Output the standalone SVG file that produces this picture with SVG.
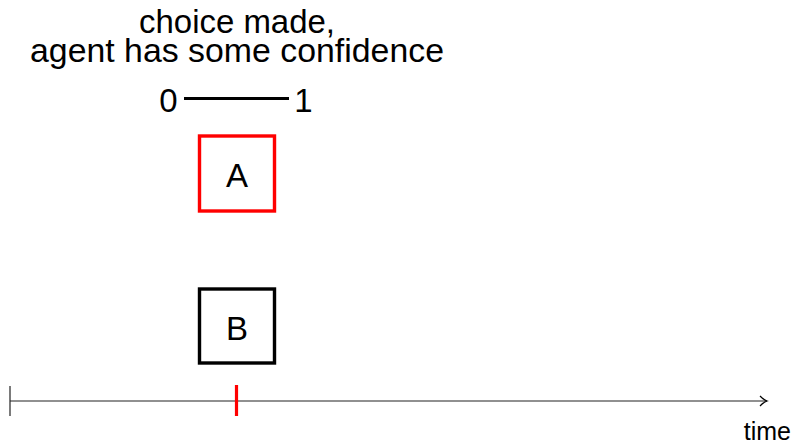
<svg xmlns="http://www.w3.org/2000/svg" width="798" height="445" viewBox="0 0 798 445">
<style>
text{font-family:"Liberation Sans",Arial,sans-serif;fill:#000}
.lbl{font-size:33px;text-anchor:middle}
.box{fill:#fff;stroke-width:3.4}
</style>
<defs>
<marker id="arr" markerWidth="10" markerHeight="12" refX="8" refY="6" orient="auto" markerUnits="userSpaceOnUse">
<path d="M1,1 Q5,5 8,6 Q5,7 1,11" fill="none" stroke="#000" stroke-width="1.2"/>
</marker>
</defs>
<rect width="798" height="445" fill="#fff"/>
<g id="title">
<text class="lbl" x="237" y="33" font-size="30" textLength="196" lengthAdjust="spacingAndGlyphs">choice made,</text>
<text class="lbl" x="237" y="62" font-size="31" textLength="414" lengthAdjust="spacingAndGlyphs">agent has some confidence</text>
</g>
<g id="scale">
<text class="lbl" x="168.5" y="112">0</text>
<line x1="184" y1="98.5" x2="289" y2="98.5" stroke="#000" stroke-width="3.2"/>
<text class="lbl" x="303.5" y="112">1</text>
</g>
<g id="nodeA">
<rect class="box" x="199.5" y="136" width="75" height="75" stroke="#f00"/>
<text class="lbl" x="237" y="187">A</text>
</g>
<g id="nodeB">
<rect class="box" x="199.5" y="289" width="75" height="74" stroke="#000"/>
<text class="lbl" x="237" y="340">B</text>
</g>
<g id="connectors">
<line x1="10" y1="401" x2="767" y2="401" stroke="#222" stroke-width="1.2" marker-end="url(#arr)"/>
<line x1="10" y1="386" x2="10" y2="416" stroke="#222" stroke-width="1.2"/>
<line x1="236.5" y1="385" x2="236.5" y2="416" stroke="#f00" stroke-width="3.2"/>
</g>
<text x="791" y="440" font-size="25" text-anchor="end">time</text>
</svg>
